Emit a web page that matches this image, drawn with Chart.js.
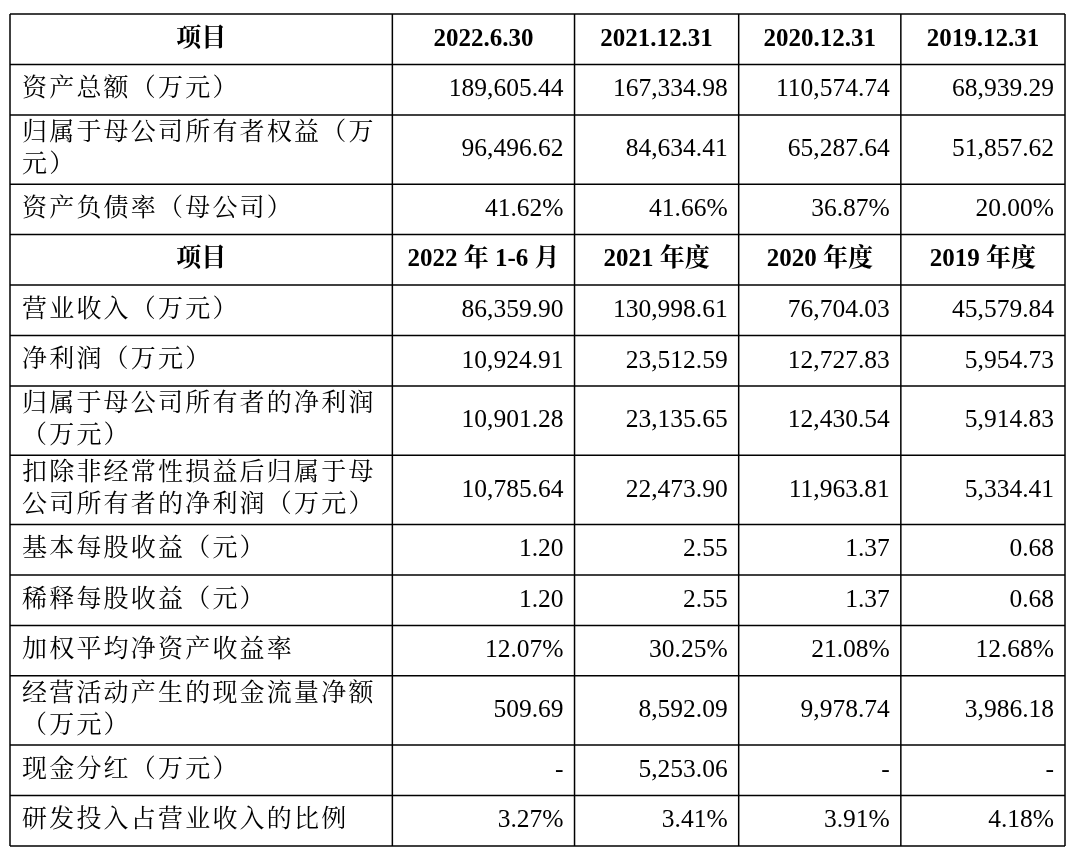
<!DOCTYPE html>
<html><head><meta charset="utf-8">
<script src="https://cdn.jsdelivr.net/npm/chart.js@4.4.0/dist/chart.umd.min.js"></script>
<style>html,body{margin:0;background:#fff}#c{display:block}</style>
</head><body>
<div style="width:1080px;height:851px"><canvas id="c"></canvas></div>
<script>
const header1 = ['项目', '2022.6.30', '2021.12.31', '2020.12.31', '2019.12.31'];
const header2 = ['项目', '2022 年 1-6 月', '2021 年度', '2020 年度', '2019 年度'];
const labels1 = ['资产总额（万元）', '归属于母公司所有者权益（万\n元）', '资产负债率（母公司）'];
const labels2 = ['营业收入（万元）', '净利润（万元）', '归属于母公司所有者的净利润\n（万元）',
  '扣除非经常性损益后归属于母\n公司所有者的净利润（万元）', '基本每股收益（元）', '稀释每股收益（元）',
  '加权平均净资产收益率', '经营活动产生的现金流量净额\n（万元）', '现金分红（万元）', '研发投入占营业收入的比例'];
const v2022 = ['189,605.44', '96,496.62', '41.62%', '86,359.90', '10,924.91', '10,901.28', '10,785.64', '1.20', '1.20', '12.07%', '509.69', '-', '3.27%'];
const v2021 = ['167,334.98', '84,634.41', '41.66%', '130,998.61', '23,512.59', '23,135.65', '22,473.90', '2.55', '2.55', '30.25%', '8,592.09', '5,253.06', '3.41%'];
const v2020 = ['110,574.74', '65,287.64', '36.87%', '76,704.03', '12,727.83', '12,430.54', '11,963.81', '1.37', '1.37', '21.08%', '9,978.74', '-', '3.91%'];
const v2019 = ['68,939.29', '51,857.62', '20.00%', '45,579.84', '5,954.73', '5,914.83', '5,334.41', '0.68', '0.68', '12.68%', '3,986.18', '-', '4.18%'];

// build rows
const rows = [{head: true, cells: header1}];
labels1.forEach((l, i) => rows.push({cells: [l, v2022[i], v2021[i], v2020[i], v2019[i]]}));
rows.push({head: true, cells: header2});
labels2.forEach((l, j) => { const i = j + 3; rows.push({cells: [l, v2022[i], v2021[i], v2020[i], v2019[i]]}); });
rows.forEach(r => r.h = r.cells[0].includes('\n') ? 1.37 : 1);
let acc = 0; rows.forEach(r => { r.y0 = acc; acc += r.h; r.y1 = acc; });
const totalUnits = acc;
const colW = [382, 182, 164, 162, 164];
const colX = [0]; colW.forEach(w => colX.push(colX[colX.length - 1] + w));

const FONT = '"Liberation Serif", "Noto Serif CJK SC", "Noto Sans CJK SC", serif';

const tablePlugin = {
  id: 'table',
  afterDraw(chart) {
    const c = chart.ctx, xs = chart.scales.x, ys = chart.scales.y;
    const px = v => xs.getPixelForValue(v), py = v => ys.getPixelForValue(v);
    c.save();
    c.strokeStyle = '#000'; c.lineWidth = 1.5;
    rows.forEach(r => { c.beginPath(); c.moveTo(px(0), py(r.y0)); c.lineTo(px(colX[5]), py(r.y0)); c.stroke(); });
    c.beginPath(); c.moveTo(px(0), py(totalUnits)); c.lineTo(px(colX[5]), py(totalUnits)); c.stroke();
    colX.forEach(x => { c.beginPath(); c.moveTo(px(x), py(0)); c.lineTo(px(x), py(totalUnits)); c.stroke(); });
    c.fillStyle = '#000'; c.textBaseline = 'middle';
    rows.forEach(r => {
      const yc = (py(r.y0) + py(r.y1)) / 2;
      r.cells.forEach((t, k) => {
        c.letterSpacing = '0px';
        if (r.head) {
          c.font = 'bold 25px ' + FONT; c.textAlign = 'center';
          c.fillText(t, (px(colX[k]) + px(colX[k + 1])) / 2, yc);
        } else if (k === 0) {
          c.font = '25px ' + FONT; c.textAlign = 'left';
          c.letterSpacing = '2.2px';
          const lines = t.split('\n');
          lines.forEach((ln, li) => c.fillText(ln, px(12), yc + (li - (lines.length - 1) / 2) * 32));
        } else {
          c.font = '25.5px ' + FONT; c.textAlign = 'right';
          c.fillText(t, px(colX[k + 1]) - 11, yc);
        }
      });
    });
    c.restore();
  }
};

new Chart(document.getElementById('c'), {
  type: 'scatter',
  data: { datasets: [{ data: [] }] },
  options: {
    responsive: true, maintainAspectRatio: false, animation: false,
    layout: { padding: { left: 10, right: 15, top: 14, bottom: 5 } },
    plugins: { legend: { display: false }, tooltip: { enabled: false } },
    scales: {
      x: { type: 'linear', display: false, min: 0, max: colX[5] },
      y: { type: 'linear', display: false, min: 0, max: totalUnits, reverse: true }
    }
  },
  plugins: [tablePlugin]
});
</script>
</body></html>
